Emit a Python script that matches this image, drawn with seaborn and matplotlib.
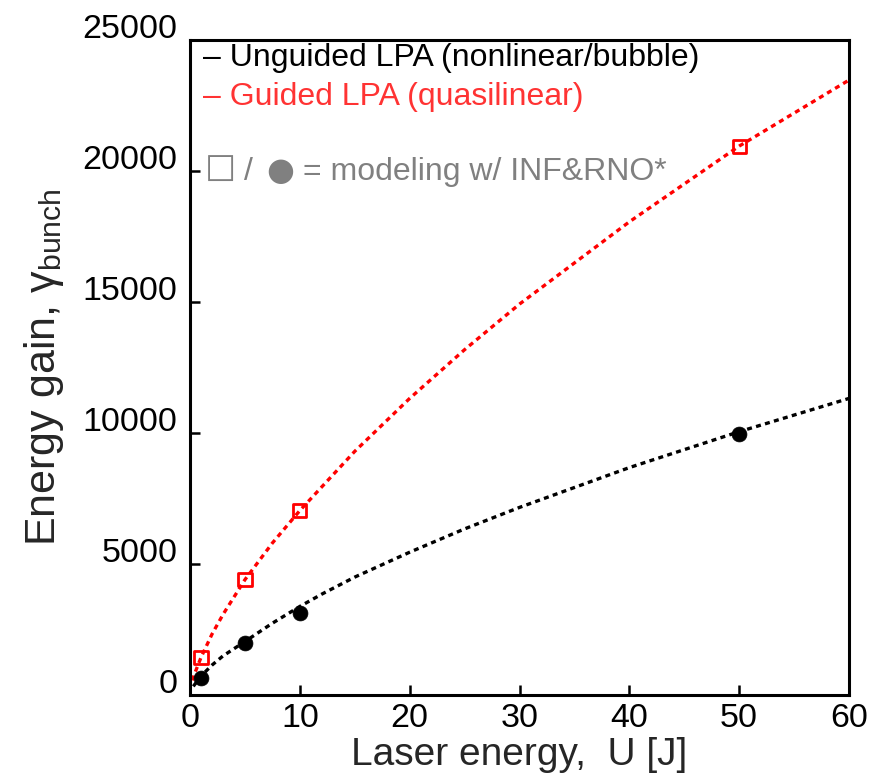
import matplotlib
matplotlib.use("Agg")
import matplotlib.pyplot as plt
import matplotlib.transforms as mtransforms
import seaborn as sns

# ---- data ----
guided_x = [1, 5, 10, 50]
guided_y = [1430, 4400, 7040, 20950]
unguided_x = [1, 5, 10, 50]
unguided_y = [640, 1980, 3120, 9950]

guided_curve_x = [0.2, 0.5, 1, 2, 3, 5, 7.5, 10, 15, 20, 25, 30, 40, 50, 60]
guided_curve_y = [560, 900, 1430, 2320, 3070, 4400, 5800, 7040, 9300, 11320,
                  13180, 14920, 18060, 20950, 23470]
unguided_curve_x = [0.3, 1, 2, 3, 5, 7.5, 10, 12, 15, 20, 25, 30, 40, 50, 60]
unguided_curve_y = [330, 720, 1140, 1490, 2040, 2740, 3380, 3850, 4500, 5450,
                    6340, 7160, 8680, 10050, 11320]

x_ticks = [0, 10, 20, 30, 40, 50, 60]
y_ticks = [0, 5000, 10000, 15000, 20000, 25000]

legend_lines = ["\u2013 Unguided LPA (nonlinear/bubble)",
                "\u2013 Guided LPA (quasilinear)"]
note_symbols = ["\u2610", "/", "\u25CF"]
note_text = "= modeling w/ INF&RNO*"

sns.set_style("ticks")
plt.rcParams["font.family"] = ["Liberation Sans", "DejaVu Sans"]
plt.rcParams["mathtext.fontset"] = "custom"
plt.rcParams["mathtext.rm"] = "Liberation Sans"
plt.rcParams["mathtext.it"] = "Liberation Sans:italic"

fig = plt.figure(figsize=(8.73, 7.76), dpi=100)
ax = fig.add_axes([190 / 873, 81 / 776, 659 / 873, 655 / 776])

dot = (0, (1.5, 1.3))
sns.lineplot(x=guided_curve_x, y=guided_curve_y, ax=ax, color="#ff0000",
             linewidth=2.4, linestyle=dot, sort=False, estimator=None)
sns.lineplot(x=unguided_curve_x, y=unguided_curve_y, ax=ax, color="black",
             linewidth=2.4, linestyle=dot, sort=False, estimator=None)

sns.scatterplot(x=guided_x, y=guided_y, ax=ax, marker="s", s=90,
                facecolor="none", edgecolor="#ff0000", linewidth=2.0, zorder=5)
sns.scatterplot(x=unguided_x, y=unguided_y, ax=ax, marker="o", s=115,
                color="black", edgecolor="black", linewidth=0.5, zorder=5)

ax.set_xlim(0, 60)
ax.set_ylim(0, 25000)
ax.set_xticks(x_ticks)
ax.set_yticks(y_ticks)
ax.set_xticklabels([str(v) for v in x_ticks])
ax.set_yticklabels([str(v) for v in y_ticks])

for side in ["left", "bottom", "right", "top"]:
    ax.spines[side].set_visible(True)
    ax.spines[side].set_linewidth(2.2)
    ax.spines[side].set_color("black")

ax.tick_params(axis="both", direction="in", length=7, width=1.8,
               labelsize=24.5, colors="black")
ax.tick_params(axis="y", pad=9)
ax.tick_params(axis="x", pad=6)

offset = mtransforms.ScaledTranslation(0, 0.14, fig.dpi_scale_trans)
for lab in ax.get_yticklabels():
    lab.set_transform(lab.get_transform() + offset)

ax.set_xlabel("Laser energy,  U [J]", fontsize=28, labelpad=2)
ax.set_ylabel("Energy gain, \u03b3$_{\\rm bunch}$", fontsize=31, labelpad=12)

ax.text(0.02, 0.9725, legend_lines[0], transform=ax.transAxes, fontsize=23,
        color="black", va="center", ha="left")
ax.text(0.02, 0.913, legend_lines[1], transform=ax.transAxes, fontsize=23,
        color="#ff3333", va="center", ha="left")

gray = "#808080"
ax.text(0.0455, 0.800, note_symbols[0], transform=ax.transAxes, fontsize=25,
        color=gray, va="center", ha="center", family="DejaVu Sans")
ax.text(0.089, 0.798, note_symbols[1], transform=ax.transAxes, fontsize=23,
        color=gray, va="center", ha="center")
ax.text(0.1366, 0.800, note_symbols[2], transform=ax.transAxes, fontsize=23,
        color=gray, va="center", ha="center", family="DejaVu Sans")
ax.text(0.172, 0.798, note_text, transform=ax.transAxes, fontsize=23,
        color=gray, va="center", ha="left")

fig.savefig("out.png", dpi=100)
